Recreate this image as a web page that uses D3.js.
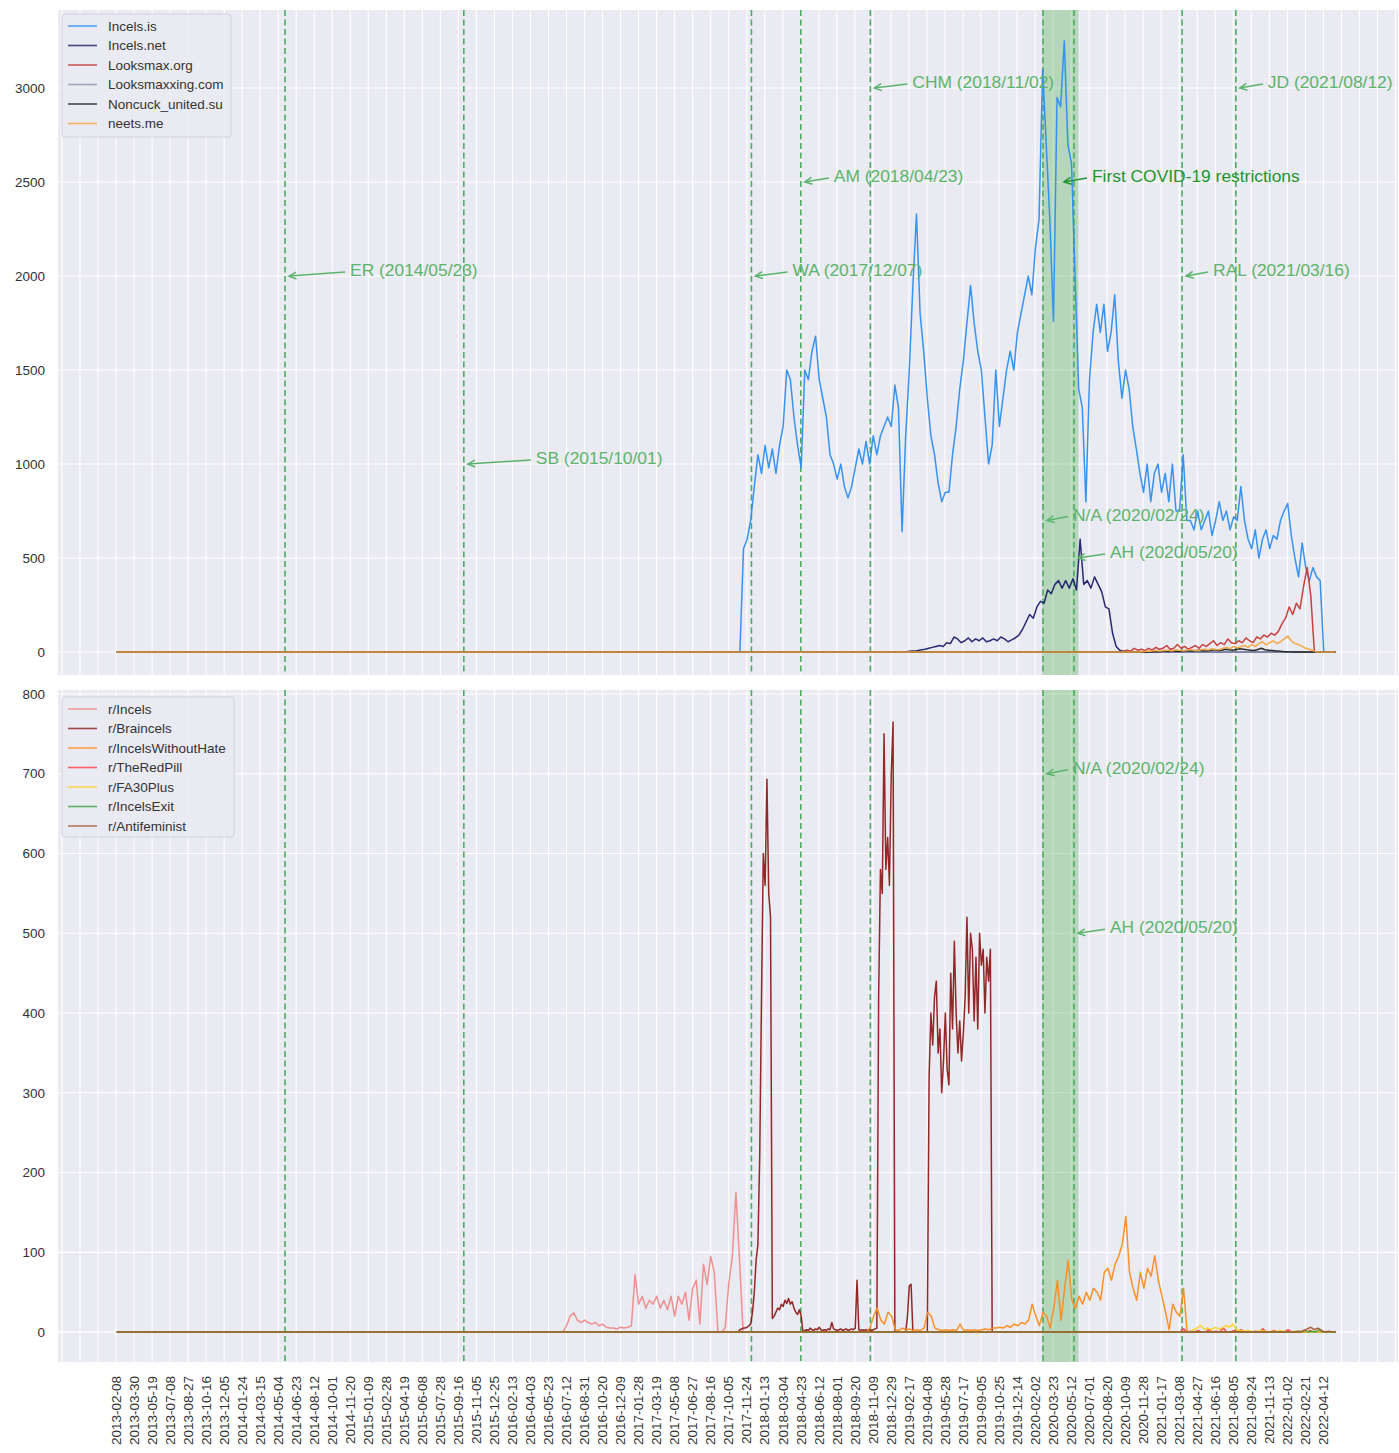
<!DOCTYPE html>
<html><head><meta charset="utf-8">
<script src="https://cdn.jsdelivr.net/npm/d3@7"></script>
<style>
body{margin:0;background:#fff}
text{font-family:"Liberation Sans",Arial,Helvetica,sans-serif}
</style>
</head><body>
<svg id="chart" width="1399" height="1453"></svg>
<script>
// ---------------- DATA ----------------
const xTickLabels = ["2013-02-08","2013-03-30","2013-05-19","2013-07-08","2013-08-27","2013-10-16","2013-12-05",
"2014-01-24","2014-03-15","2014-05-04","2014-06-23","2014-08-12","2014-10-01","2014-11-20",
"2015-01-09","2015-02-28","2015-04-19","2015-06-08","2015-07-28","2015-09-16","2015-11-05","2015-12-25",
"2016-02-13","2016-04-03","2016-05-23","2016-07-12","2016-08-31","2016-10-20","2016-12-09",
"2017-01-28","2017-03-19","2017-05-08","2017-06-27","2017-08-16","2017-10-05","2017-11-24",
"2018-01-13","2018-03-04","2018-04-23","2018-06-12","2018-08-01","2018-09-20","2018-11-09","2018-12-29",
"2019-02-17","2019-04-08","2019-05-28","2019-07-17","2019-09-05","2019-10-25","2019-12-14",
"2020-02-02","2020-03-23","2020-05-12","2020-07-01","2020-08-20","2020-10-09","2020-11-28",
"2021-01-17","2021-03-08","2021-04-27","2021-06-16","2021-08-05","2021-09-24","2021-11-13",
"2022-01-02","2022-02-21","2022-04-12"];
const topYTicks = [0,500,1000,1500,2000,2500,3000];
const bottomYTicks = [0,100,200,300,400,500,600,700,800];

const seriesStart = "2013-02-10";
const seriesEnd = "2022-05-16";

// forum series (top panel): start date, step in days, values
const incelsIs = {name:"Incels.is", start:"2017-11-05", step:10, values:[
0,550,600,700,880,1050,950,1100,980,1080,950,1100,1200,1500,1450,1250,1100,980,1500,1450,
1600,1680,1450,1350,1250,1050,1000,920,1000,880,820,880,980,1080,1000,1120,1000,1150,1050,1150,
1200,1250,1200,1420,1300,640,1150,1500,1950,2330,1800,1600,1350,1150,1050,900,800,850,850,1050,
1200,1400,1550,1750,1950,1750,1600,1500,1250,1000,1100,1500,1200,1350,1500,1600,1500,1700,1800,1900,
2000,1900,2150,2300,3100,2700,2300,1760,2950,2900,3250,2700,2600,2000,1400,1300,800,1450,1700,1850,
1700,1850,1600,1700,1900,1550,1350,1500,1400,1200,1080,950,850,1000,800,950,1000,850,950,800,
1000,750,750,1050,700,700,650,750,650,700,750,620,700,800,700,750,650,720,700,880,
700,600,550,650,500,600,650,550,620,600,700,750,790,620,500,400,580,450,380,450,
400,380,0]};
const incelsNet = {name:"Incels.net", start:"2019-01-23", step:10, values:[
0,2,3,5,5,8,12,15,20,25,30,35,30,50,45,80,70,50,60,75,
55,70,60,75,55,60,70,60,80,70,55,65,75,90,120,160,200,180,240,270,
260,330,310,360,380,340,380,340,390,330,600,360,380,340,400,360,320,240,230,100,
30,10,5,2,0]};
const looksmaxOrg = {name:"Looksmax.org", start:"2020-09-24", step:10, values:[
0,5,10,5,20,10,15,8,20,10,25,15,20,35,15,20,40,20,30,15,
25,35,20,40,30,45,60,35,50,40,70,50,45,60,50,75,60,50,80,70,
90,80,100,90,110,150,180,240,200,260,230,350,450,300,0]};
const looksmaxxingCom = {name:"Looksmaxxing.com", start:"2021-01-10", step:10, values:[
0,1,0,2,1,0,1,2,0,1,0,2,1,0,1,0,2,1,0,1,0,0]};
const noncuckUnited = {name:"Noncuck_united.su", start:"2020-12-16", step:10, values:[
0,2,3,2,5,3,4,6,3,5,8,6,5,8,10,7,6,9,12,8,
10,15,12,10,14,18,15,12,10,8,14,20,12,10,8,6,5,3,2,1,0]};
const neetsMe = {name:"neets.me", start:"2020-11-19", step:10, values:[
0,3,5,4,8,6,5,10,8,6,12,9,7,10,14,10,8,12,15,11,
18,14,12,20,25,18,30,22,28,35,25,40,30,45,55,38,50,60,45,55,
70,85,60,45,40,30,20,15,8,0]};

// subreddit series (bottom panel)
const rIncels = {name:"r/Incels", start:"2016-07-02", step:10, values:[
0,8,20,24,15,12,15,12,10,12,8,10,6,5,5,4,6,5,6,8,
72,35,45,30,40,35,45,30,40,28,45,20,45,35,50,15,55,65,10,85,
60,95,75,0,0,5,60,95,175,90,0]};
const rBraincels = {name:"r/Braincels", start:"2017-10-31", step:5, values:[
0,3,4,5,5,6,8,10,25,50,90,110,220,420,600,560,693,550,520,17,20,
25,30,28,35,32,40,36,42,35,38,30,25,22,28,20,0,2,3,2,5,
3,2,4,3,6,3,2,3,2,4,3,12,4,3,2,3,4,2,3,4,
2,3,4,3,5,65,3,2,3,2,3,2,3,2,3,4,5,420,580,550,
750,580,620,560,700,765,0,0,0,0,0,0,0,20,58,60,0,0,0,0,
0,0,0,0,0,320,400,360,420,440,350,380,300,340,400,330,310,450,380,490,
400,350,390,340,375,420,520,400,500,480,390,470,380,500,460,480,400,470,440,480,
0]};
const rIncelsWithoutHate = {name:"r/IncelsWithoutHate", start:"2018-10-22", step:10, values:[
0,5,20,30,15,10,25,20,3,2,5,3,4,2,3,2,5,25,20,5,3,
2,3,2,3,2,10,2,3,2,3,2,3,4,3,5,5,6,5,8,6,
10,8,12,10,15,35,20,8,25,20,5,30,65,15,55,90,40,30,45,35,
50,40,55,50,40,75,80,65,85,95,110,145,75,55,40,75,55,80,70,96,
65,45,25,3,35,25,20,55,0]};
const rTheRedPill = {name:"r/TheRedPill", start:"2021-03-10", step:10, values:[
0,4,0,1,0,2,0,0,3,0,1,0,5,0,0,2,0,3,0,0,0,1,0,4,0,0,2,0,1,0,3,0,0,1,0,0,2,0,0]};
const rFA30Plus = {name:"r/FA30Plus", start:"2021-04-06", step:10, values:[
0,3,5,8,4,5,3,6,4,5,8,6,10,3,2,1,2,1,0,1,2,1,0,1,0,2,1,0,0,1,0]};
const rIncelsExit = {name:"r/IncelsExit", start:"2022-01-20", step:10, values:[0,1,0,2,0,1,0,3,0,0]};
const rAntifeminist = {name:"r/Antifeminist", start:"2022-02-06", step:10, values:[0,2,4,6,3,5,2,0,1,0]};

const eventDates = ["2014-05-23","2015-10-01","2017-12-07","2018-04-23","2018-11-02","2020-02-24","2020-05-20","2021-03-16","2021-08-12"];
const covidBand = ["2020-02-22","2020-06-01"];
const topAnnotations = [
  {label:"ER (2014/05/23)", date:"2014-05-23", value:2000},
  {label:"SB (2015/10/01)", date:"2015-10-01", value:1000},
  {label:"WA (2017/12/07)", date:"2017-12-07", value:2000},
  {label:"AM (2018/04/23)", date:"2018-04-23", value:2500},
  {label:"CHM (2018/11/02)", date:"2018-11-02", value:3000},
  {label:"First COVID-19 restrictions", date:"2020-04-11", value:2500, strong:true},
  {label:"N/A (2020/02/24)", date:"2020-02-24", value:700},
  {label:"AH (2020/05/20)", date:"2020-05-20", value:500},
  {label:"RAL (2021/03/16)", date:"2021-03-16", value:2000},
  {label:"JD (2021/08/12)", date:"2021-08-12", value:3000}
];
const bottomAnnotations = [
  {label:"N/A (2020/02/24)", date:"2020-02-24", value:700},
  {label:"AH (2020/05/20)", date:"2020-05-20", value:500}
];

// ---------------- LAYOUT / STYLE ----------------
const topSeries = [incelsIs, incelsNet, looksmaxOrg, looksmaxxingCom, noncuckUnited, neetsMe];
const topColors = ["#2b8ef2","#1d1d6b","#c43a36","#8e97ab","#222222","#f4a43e"];
const bottomSeries = [rIncels, rBraincels, rIncelsWithoutHate, rTheRedPill, rFA30Plus, rIncelsExit, rAntifeminist];
const bottomColors = ["#f08a8a","#8e1b1b","#fb8c1c","#ff3d3d","#ffd426","#3aa845","#a8582f"];
const annotationGap = {"ER (2014/05/23)":61,"SB (2015/10/01)":68,"WA (2017/12/07)":37,"AM (2018/04/23)":29,
  "CHM (2018/11/02)":38,"First COVID-19 restrictions":28,"N/A (2020/02/24)":26,"AH (2020/05/20)":32,
  "RAL (2021/03/16)":27,"JD (2021/08/12)":28};

const parse = d3.utcParse("%Y-%m-%d");
const svg = d3.select("#chart");
const L = 58, R = 1398;
const x = d3.scaleUtc().domain([parse("2012-08-31"), parse("2022-11-05")]).range([L, R]);

const panels = [
  {top:10, bottom:675, domain:[-122, 3415], ticks:topYTicks, series:topSeries, colors:topColors, ann:topAnnotations,
   legend:{x:62, y:14, w:169, h:123}},
  {top:690, bottom:1362, domain:[-37.5, 805], ticks:bottomYTicks, series:bottomSeries, colors:bottomColors, ann:bottomAnnotations,
   legend:{x:62, y:697, w:172, h:140}}
];

function build(spec){
  const s = parse(spec.start);
  const pts = [{date:parse(seriesStart), value:0}];
  spec.values.forEach((v,i)=>pts.push({date:d3.utcDay.offset(s, i*spec.step), value:v}));
  pts.push({date:parse(seriesEnd), value:0});
  return pts;
}

// vertical grid dates every 50 days anchored on first tick label
const firstTick = parse(xTickLabels[0]);
const gridDates = [];
for (let d = firstTick; d >= x.domain()[0]; d = d3.utcDay.offset(d, -50)) gridDates.push(d);
for (let d = d3.utcDay.offset(firstTick, 50); d <= x.domain()[1]; d = d3.utcDay.offset(d, 50)) gridDates.push(d);

const green = "#4fab62";

panels.forEach((p, pi) => {
  const y = d3.scaleLinear().domain(p.domain).range([p.bottom, p.top]);
  const g = svg.append("g");
  const clipId = "clip" + pi;
  svg.append("clipPath").attr("id", clipId).append("rect")
    .attr("x", L).attr("y", p.top).attr("width", R - L).attr("height", p.bottom - p.top);

  g.append("rect").attr("x", L).attr("y", p.top).attr("width", R - L).attr("height", p.bottom - p.top)
    .attr("fill", "#eaeaf2");

  // grid
  g.selectAll(".vg").data(gridDates).join("line")
    .attr("x1", d => x(d)).attr("x2", d => x(d)).attr("y1", p.top).attr("y2", p.bottom)
    .attr("stroke", "#fff").attr("stroke-width", 1.1);
  g.selectAll(".hg").data(p.ticks).join("line")
    .attr("x1", L).attr("x2", R).attr("y1", d => y(d)).attr("y2", d => y(d))
    .attr("stroke", "#fff").attr("stroke-width", 1.1);

  // y tick labels
  g.selectAll(".yt").data(p.ticks).join("text")
    .attr("x", 45).attr("y", d => y(d)).attr("dy", "0.35em").attr("text-anchor", "end")
    .attr("font-size", 13.5).attr("fill", "#333").text(d => d);

  const inner = g.append("g").attr("clip-path", `url(#${clipId})`);

  // covid band
  inner.append("rect")
    .attr("x", x(parse(covidBand[0]))).attr("width", x(parse(covidBand[1])) - x(parse(covidBand[0])))
    .attr("y", p.top).attr("height", p.bottom - p.top)
    .attr("fill", "#2ca02c").attr("opacity", 0.28);

  // event lines
  inner.selectAll(".ev").data(eventDates).join("line")
    .attr("x1", d => x(parse(d))).attr("x2", d => x(parse(d)))
    .attr("y1", p.top).attr("y2", p.bottom)
    .attr("stroke", green).attr("stroke-width", 1.6).attr("stroke-dasharray", "6,3.5");

  // lines
  const line = d3.line().x(d => x(d.date)).y(d => y(d.value));
  p.series.forEach((s, i) => {
    inner.append("path").datum(build(s)).attr("d", line)
      .attr("fill", "none").attr("stroke", p.colors[i]).attr("stroke-width", 1.5)
      .attr("stroke-linejoin", "round").attr("opacity", 0.95);
  });

  // annotations
  p.ann.forEach(a => {
    const col = a.strong ? "#23952f" : "#5cb46c";
    const tipX = x(parse(a.date)) + 4, tipY = y(a.value);
    const tx = tipX + annotationGap[a.label];
    const tailX = tx - 5, tailY = tipY - 4;
    const ang = Math.atan2(tailY - tipY, tailX - tipX);
    const hl = 8, ha = 0.45;
    g.append("line").attr("x1", tailX).attr("y1", tailY).attr("x2", tipX).attr("y2", tipY)
      .attr("stroke", col).attr("stroke-width", 1.5);
    g.append("path")
      .attr("d", `M${tipX + hl*Math.cos(ang+ha)},${tipY + hl*Math.sin(ang+ha)}L${tipX},${tipY}L${tipX + hl*Math.cos(ang-ha)},${tipY + hl*Math.sin(ang-ha)}`)
      .attr("fill", "none").attr("stroke", col).attr("stroke-width", 1.5);
    g.append("text").attr("x", tx).attr("y", tipY - 6).attr("dy", "0.35em")
      .attr("font-size", 17.4).attr("fill", col).text(a.label);
  });

  // legend
  const lg = svg.append("g");
  lg.append("rect").attr("x", p.legend.x).attr("y", p.legend.y).attr("width", p.legend.w).attr("height", p.legend.h)
    .attr("rx", 3).attr("fill", "#eaeaf2").attr("fill-opacity", 0.9).attr("stroke", "#d2d2da");
  p.series.forEach((s, i) => {
    const yy = p.legend.y + 12 + i * 19.5;
    lg.append("line").attr("x1", p.legend.x + 6).attr("x2", p.legend.x + 35).attr("y1", yy).attr("y2", yy)
      .attr("stroke", p.colors[i]).attr("stroke-width", 1.6).attr("opacity", 0.8);
    lg.append("text").attr("x", p.legend.x + 46).attr("y", yy).attr("dy", "0.35em")
      .attr("font-size", 13.5).attr("fill", "#333").text(s.name);
  });
});

// x tick labels (bottom panel only)
svg.append("g").selectAll("text").data(xTickLabels).join("text")
  .attr("transform", d => `translate(${x(parse(d))},1376) rotate(-90)`)
  .attr("text-anchor", "end").attr("dy", "0.35em")
  .attr("font-size", 13.5).attr("fill", "#333").text(d => d);
</script>
</body></html>
